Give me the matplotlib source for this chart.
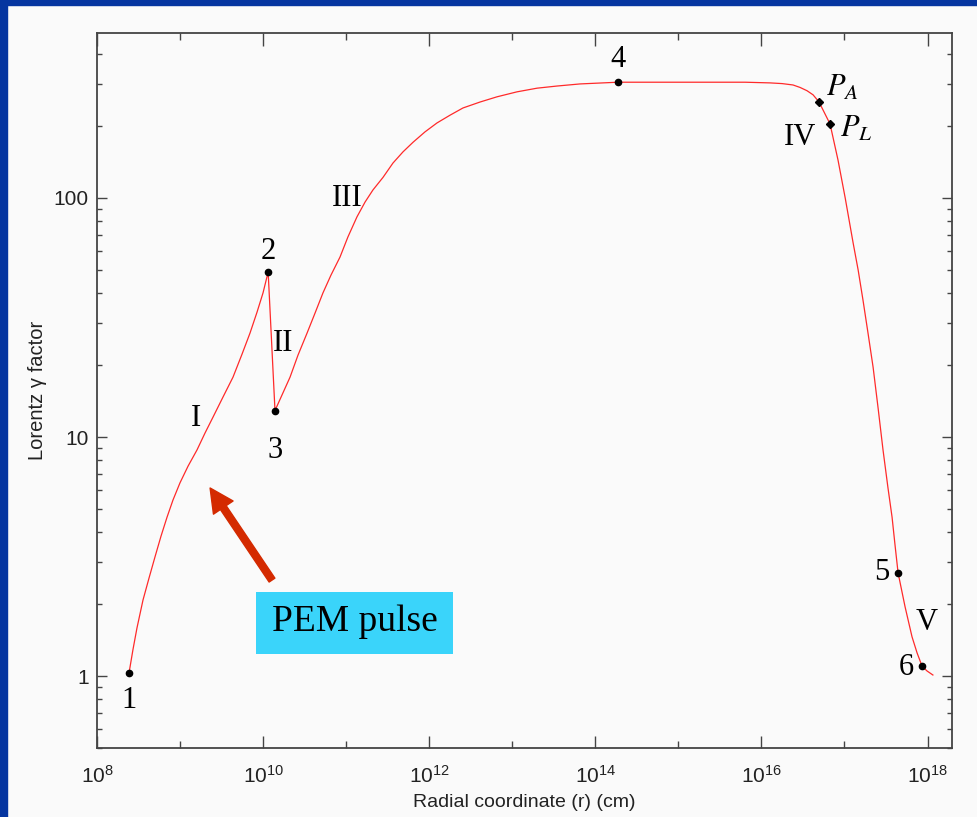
import math
import matplotlib
matplotlib.use("Agg")
import matplotlib.pyplot as plt
from matplotlib.patches import Rectangle
from matplotlib.ticker import FixedLocator, FuncFormatter, LogLocator, NullFormatter

# Lorentz factor along the radial coordinate (path order, 2 -> 3 goes back down)
r_curve = [2.43e8, 2.71e8, 3.03e8, 3.58e8, 4.23e8, 4.99e8, 5.90e8, 6.97e8, 8.22e8,
           9.98e8, 1.25e9, 1.60e9, 2.00e9, 2.49e9, 3.29e9, 4.34e9, 5.57e9, 6.95e9,
           8.45e9, 9.98e9, 1.15e10,
           1.39e10, 2.11e10, 2.63e10, 3.38e10, 4.22e10, 5.26e10, 6.57e10, 8.43e10,
           1.05e11, 1.35e11, 1.69e11, 2.10e11, 2.78e11, 3.66e11, 4.84e11, 6.38e11,
           8.89e11, 1.24e12, 1.78e12, 2.55e12, 4.09e12, 6.55e12, 1.14e13, 1.99e13,
           3.46e13, 6.55e13, 1.87e14,
           1.82e15, 6.35e15, 1.27e16, 1.77e16, 2.40e16, 2.92e16, 3.54e16, 4.19e16,
           4.94e16, 6.70e16, 8.36e16, 1.02e17, 1.27e17, 1.46e17, 1.67e17, 1.92e17,
           2.21e17, 2.54e17, 2.91e17, 3.34e17, 3.74e17, 4.06e17, 4.42e17, 5.36e17,
           6.50e17, 7.48e17, 8.59e17, 9.86e17, 1.16e18]
gamma_curve = [1.03, 1.29, 1.59, 2.08, 2.57, 3.15, 3.85, 4.62, 5.45,
               6.43, 7.56, 8.83, 10.4, 12.1, 14.7, 17.8, 22.2, 27.2,
               33.3, 40.1, 49.0,
               12.9, 17.8, 22.0, 27.2, 33.0, 40.1, 47.6, 56.6,
               68.7, 83.4, 96.2, 108, 122, 140, 156, 171,
               189, 206, 222, 238, 252, 265, 278, 288,
               294, 300, 305,
               305, 305, 303, 301, 297, 290, 281, 270,
               252, 204, 144, 100, 64.9, 50.0, 37.4, 27.2,
               19.6, 13.2, 8.83, 6.12, 4.62, 3.53, 2.70, 1.95,
               1.46, 1.25, 1.10, 1.05, 1.01]

# numbered points
pt_labels = ["1", "2", "3", "4", "5", "6"]
pt_r = [2.43e8, 1.15e10, 1.39e10, 1.87e14, 4.42e17, 8.59e17]
pt_gamma = [1.03, 49.0, 12.9, 305, 2.70, 1.10]
pt_offsets = [(0, -20), (0, 15), (0, -29), (0, 16), (-12, 0), (-11, -1)]

# P_A and P_L
p_labels = ["$P_A$", "$P_L$"]
p_r = [4.94e16, 6.70e16]
p_gamma = [252, 204]
p_pos = [(0.8526, 0.9245), (0.869, 0.867)]

# eras
era_labels = ["I", "II", "III", "IV", "V"]
era_pos = [(0.1158, 0.4615), (0.2175, 0.5664), (0.2924, 0.7692),
           (0.8222, 0.8545), (0.9708, 0.1762)]

x_major = [1e8, 1e10, 1e12, 1e14, 1e16, 1e18]
x_minor = [1e9, 1e11, 1e13, 1e15, 1e17]
y_major = [1, 10, 100]

bg = "#fafafa"
serif = ["Liberation Serif", "DejaVu Serif"]
sans = ["Liberation Sans Narrow", "Liberation Sans", "DejaVu Sans"]
plt.rcParams["mathtext.fontset"] = "stix"

fig = plt.figure(figsize=(9.78, 8.17), dpi=100, facecolor=bg)
# blue frame on the left and top
fig.patches.append(Rectangle((0, 0), 7 / 978, 1, transform=fig.transFigure,
                             color="#0535a0", zorder=0))
fig.patches.append(Rectangle((0, 1 - 5 / 817), 1, 5 / 817, transform=fig.transFigure,
                             color="#0535a0", zorder=0))

ax = fig.add_axes([97 / 978, 69 / 817, 855 / 978, 715 / 817])
ax.set_facecolor(bg)
ax.set_xscale("log")
ax.set_yscale("log")

ax.plot(r_curve, gamma_curve, color="#ff2a2a", lw=0.9, zorder=2)
ax.plot(pt_r, pt_gamma, "o", color="black", ms=4.5, zorder=3)
ax.plot(p_r, p_gamma, "D", color="black", ms=4.5, zorder=3)

for lab, x, y, off in zip(pt_labels, pt_r, pt_gamma, pt_offsets):
    ax.annotate(lab, (x, y), xytext=off, textcoords="offset points",
                ha="center", va="center", fontsize=22, family=serif)

for lab, (x, y) in zip(p_labels, p_pos):
    ax.text(x, y, lab, transform=ax.transAxes, fontsize=22, ha="left", va="center")

for lab, (x, y) in zip(era_labels, era_pos):
    ax.text(x, y, lab, transform=ax.transAxes, ha="center", va="center",
            fontsize=22, family=serif)

# arrow and PEM pulse box
ax.annotate("", xy=(2.3e9, 6.12), xytext=(1.28e10, 2.52),
            arrowprops=dict(facecolor="#d42a00", edgecolor="#d42a00",
                            width=5, headwidth=17, headlength=17))
ax.add_patch(Rectangle((0.186, 0.1315), 0.2304, 0.0867, transform=ax.transAxes,
                       facecolor="#3ad4fa", edgecolor="none", zorder=4))
ax.text(0.3018, 0.176, "PEM pulse", transform=ax.transAxes, ha="center",
        va="center", fontsize=27, family=serif, zorder=5)

ax.set_xlim(1e8, 1.97e18)
ax.set_ylim(0.5, 490)

ax.xaxis.set_major_locator(FixedLocator(x_major))
ax.xaxis.set_minor_locator(FixedLocator(x_minor))
ax.xaxis.set_major_formatter(FuncFormatter(
    lambda v, p: r"$\mathregular{10^{%d}}$" % round(math.log10(v))))
ax.xaxis.set_minor_formatter(NullFormatter())
ax.yaxis.set_major_locator(FixedLocator(y_major))
ax.yaxis.set_minor_locator(LogLocator(base=10, subs=range(2, 10)))
ax.yaxis.set_major_formatter(FuncFormatter(lambda v, p: "%d" % v))
ax.yaxis.set_minor_formatter(NullFormatter())

ax.tick_params(which="both", direction="in", top=True, right=True,
               color="#444444", width=1.0)
ax.tick_params(axis="x", which="major", length=9, pad=12)
ax.tick_params(axis="x", which="minor", length=5)
ax.tick_params(axis="y", which="major", length=7, pad=6)
ax.tick_params(axis="y", which="minor", length=3.5)
for lab in ax.get_xticklabels() + ax.get_yticklabels():
    lab.set_family(sans)
    lab.set_fontsize(15)
    lab.set_color("#222222")

for s in ax.spines.values():
    s.set_color("#444444")
    s.set_linewidth(1.3)

ax.set_xlabel("Radial coordinate (r) (cm)", family=sans, fontsize=14,
              color="#222222", labelpad=5)
ax.set_ylabel("Lorentz \u03b3 factor", family=sans, fontsize=14.5,
              color="#222222", labelpad=5)

fig.savefig("out.png", dpi=100, facecolor=bg)
